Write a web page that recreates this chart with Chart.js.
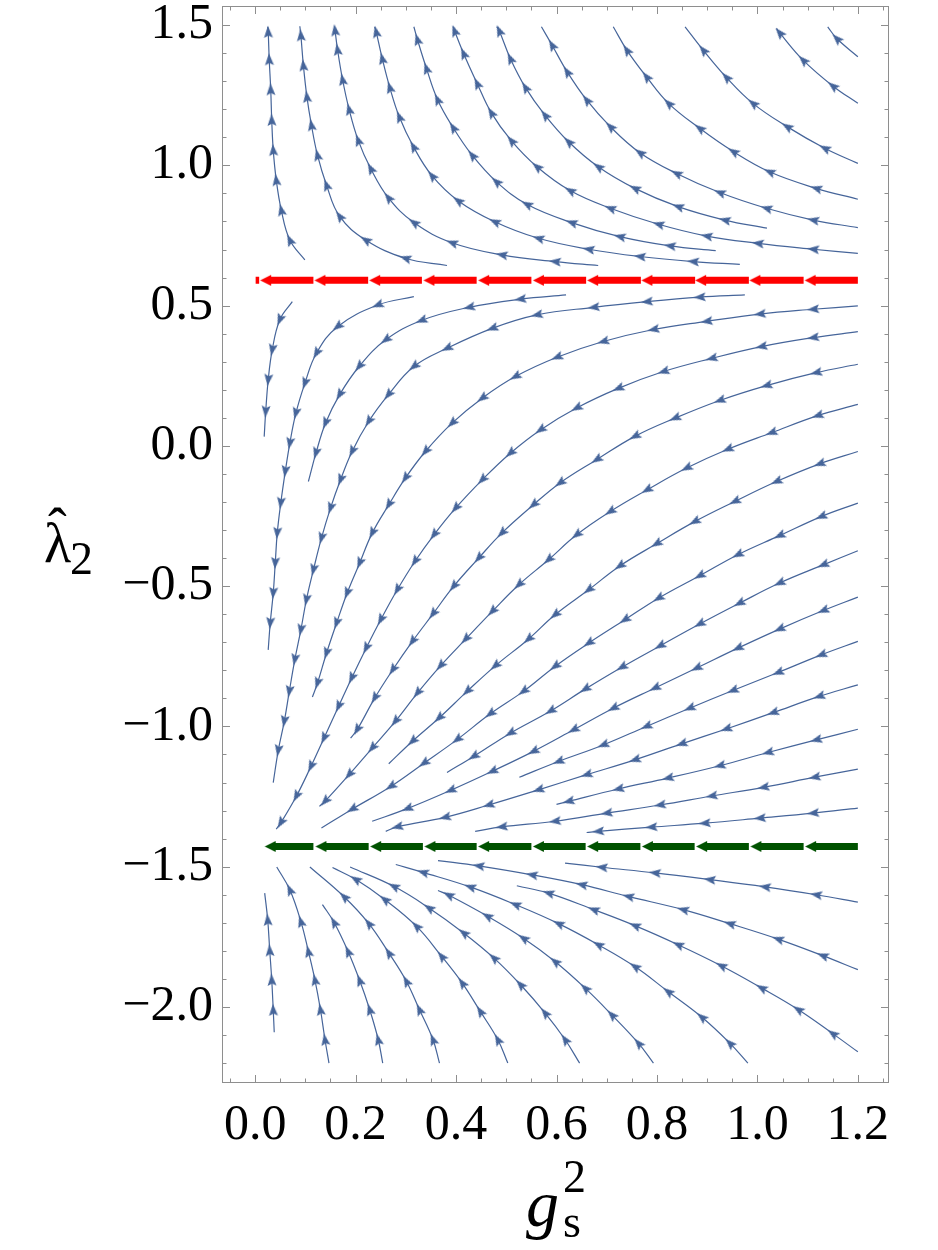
<!DOCTYPE html>
<html>
<head>
<meta charset="utf-8">
<script src="https://cdn.jsdelivr.net/npm/chart.js@4.4.1/dist/chart.umd.min.js"></script>
<style>
  html, body { margin: 0; padding: 0; background: #fff; }
  canvas { display: block; }
  .probe { font-family: 'Liberation Serif'; position: absolute; left: -999px; top: 0; }
</style>
</head>
<body>
<span class="probe">0.5 λ g <i>g</i></span>
<canvas id="flowChart" width="938" height="1250"></canvas>
<script>
// --- axes ---
const xRange = [-0.066, 1.262];
const yRange = [-2.271, 1.568];
const xTickLabels = ['0.0', '0.2', '0.4', '0.6', '0.8', '1.0', '1.2'];
const yTickLabels = ['\u22122.0', '\u22121.5', '\u22121.0', '\u22120.5', '0.0', '0.5', '1.0', '1.5'];

// --- fixed lines (thick arrows) ---
const redLevel = 0.590;
const redTips = [0.011, 0.119, 0.228, 0.336, 0.445, 0.554, 0.662, 0.770, 0.877, 0.985, 1.095];
const redEnds = [0.116, 0.225, 0.332, 0.441, 0.550, 0.659, 0.768, 0.876, 0.983, 1.092, 1.200];
const redStub = [0.001, 0.008];
const greenLevel = -1.428;
const greenTips = [0.020, 0.121, 0.230, 0.338, 0.445, 0.554, 0.662, 0.771, 0.879, 0.987, 1.096];
const greenEnds = [0.116, 0.226, 0.334, 0.441, 0.550, 0.658, 0.767, 0.875, 0.983, 1.092, 1.200];

// --- stream lines, points in flow order (inner points carry an arrow) ---
const upperStreams = [
  [[0.099,0.663],[0.069,0.734],[0.052,0.841],[0.042,0.948],[0.036,1.055],[0.033,1.162],[0.031,1.271],[0.028,1.378],[0.026,1.476],[0.025,1.494]],
  [[0.382,0.643],[0.299,0.669],[0.220,0.734],[0.168,0.819],[0.142,0.930],[0.124,1.037],[0.112,1.144],[0.103,1.245],[0.096,1.357],[0.091,1.464],[0.089,1.496]],
  [[0.683,0.643],[0.597,0.657],[0.491,0.681],[0.392,0.724],[0.316,0.796],[0.265,0.885],[0.230,0.989],[0.205,1.090],[0.187,1.200],[0.174,1.306],[0.164,1.413],[0.159,1.482],[0.158,1.494]],
  [[0.965,0.647],[0.872,0.657],[0.766,0.675],[0.664,0.701],[0.564,0.740],[0.477,0.799],[0.404,0.874],[0.352,0.963],[0.315,1.067],[0.287,1.173],[0.268,1.278],[0.253,1.381],[0.241,1.476],[0.238,1.494]],
  [[0.917,0.696],[0.826,0.713],[0.726,0.746],[0.630,0.796],[0.541,0.861],[0.480,0.942],[0.432,1.036],[0.394,1.135],[0.363,1.235],[0.341,1.346],[0.323,1.449],[0.316,1.494]],
  [[1.200,0.686],[1.111,0.701],[1.001,0.722],[0.899,0.748],[0.803,0.790],[0.707,0.847],[0.627,0.910],[0.561,0.995],[0.510,1.088],[0.470,1.188],[0.442,1.292],[0.415,1.399],[0.397,1.480],[0.395,1.494]],
  [[1.019,0.776],[0.935,0.805],[0.842,0.853],[0.756,0.918],[0.683,0.995],[0.624,1.084],[0.577,1.179],[0.538,1.278],[0.508,1.381],[0.486,1.480],[0.481,1.494]],
  [[1.200,0.778],[1.111,0.805],[1.018,0.847],[0.925,0.903],[0.839,0.971],[0.766,1.045],[0.707,1.138],[0.660,1.233],[0.621,1.334],[0.591,1.429],[0.570,1.494]],
  [[1.200,0.879],[1.117,0.918],[1.024,0.977],[0.952,1.049],[0.885,1.132],[0.823,1.221],[0.779,1.316],[0.740,1.411],[0.713,1.494]],
  [[1.200,1.007],[1.134,1.061],[1.059,1.138],[0.991,1.221],[0.938,1.314],[0.892,1.411],[0.856,1.494]],
  [[1.200,1.221],[1.150,1.283],[1.091,1.375],[1.044,1.473],[1.038,1.488]],
  [[1.200,1.387],[1.158,1.452],[1.140,1.494]]
];

const middleStreams = [
  [[0.074,0.514],[0.049,0.449],[0.034,0.342],[0.026,0.235],[0.021,0.122],[0.018,0.033]],
  [[0.316,0.532],[0.244,0.502],[0.164,0.425],[0.122,0.330],[0.099,0.223],[0.081,0.116],[0.069,0.009],[0.060,-0.091],[0.051,-0.204],[0.044,-0.311],[0.040,-0.418],[0.036,-0.525],[0.030,-0.632],[0.026,-0.727]],
  [[0.619,0.538],[0.528,0.523],[0.426,0.494],[0.331,0.447],[0.260,0.378],[0.207,0.283],[0.168,0.182],[0.140,0.081],[0.121,-0.026],[0.106,-0.127]],
  [[0.975,0.538],[0.885,0.530],[0.780,0.514],[0.674,0.494],[0.561,0.467],[0.472,0.419],[0.382,0.348],[0.316,0.283],[0.265,0.182],[0.226,0.087],[0.193,-0.020],[0.170,-0.121],[0.150,-0.222],[0.132,-0.329],[0.116,-0.442],[0.102,-0.549],[0.091,-0.656],[0.079,-0.762],[0.068,-0.875],[0.058,-0.982],[0.046,-1.086],[0.036,-1.200]],
  [[1.200,0.499],[1.111,0.487],[1.005,0.470],[0.899,0.444],[0.793,0.415],[0.693,0.372],[0.601,0.316],[0.518,0.247],[0.452,0.170],[0.392,0.081],[0.339,-0.020],[0.299,-0.115],[0.266,-0.210],[0.233,-0.311],[0.208,-0.418],[0.183,-0.525],[0.162,-0.632],[0.142,-0.739],[0.124,-0.846],[0.114,-0.895]],
  [[1.200,0.407],[1.111,0.386],[1.008,0.354],[0.909,0.312],[0.813,0.265],[0.723,0.205],[0.640,0.135],[0.568,0.057],[0.508,-0.026],[0.452,-0.121],[0.399,-0.222],[0.356,-0.317],[0.318,-0.412],[0.283,-0.513],[0.250,-0.620],[0.221,-0.721],[0.192,-0.828],[0.166,-0.929],[0.137,-1.042],[0.111,-1.143],[0.082,-1.249],[0.051,-1.344],[0.042,-1.366]],
  [[1.200,0.291],[1.117,0.261],[1.018,0.215],[0.925,0.162],[0.836,0.099],[0.756,0.034],[0.680,-0.049],[0.607,-0.132],[0.554,-0.210],[0.491,-0.311],[0.445,-0.400],[0.395,-0.501],[0.354,-0.599],[0.313,-0.697],[0.274,-0.798],[0.238,-0.899],[0.203,-1.012],[0.190,-1.042]],
  [[1.200,0.148],[1.120,0.108],[1.028,0.047],[0.941,-0.012],[0.859,-0.079],[0.780,-0.157],[0.707,-0.234],[0.640,-0.317],[0.584,-0.406],[0.525,-0.495],[0.472,-0.590],[0.419,-0.689],[0.369,-0.784],[0.323,-0.881],[0.279,-0.982],[0.233,-1.077],[0.187,-1.172],[0.139,-1.267],[0.128,-1.285]],
  [[1.200,-0.020],[1.124,-0.064],[1.038,-0.127],[0.955,-0.198],[0.875,-0.270],[0.799,-0.349],[0.726,-0.428],[0.664,-0.513],[0.597,-0.602],[0.544,-0.689],[0.478,-0.784],[0.422,-0.875],[0.366,-0.970],[0.313,-1.053],[0.266,-1.133]],
  [[1.200,-0.204],[1.127,-0.252],[1.044,-0.320],[0.961,-0.388],[0.885,-0.463],[0.803,-0.543],[0.736,-0.620],[0.664,-0.703],[0.597,-0.786],[0.534,-0.875],[0.468,-0.955],[0.402,-1.047],[0.336,-1.131],[0.270,-1.214],[0.193,-1.295],[0.132,-1.362]],
  [[1.200,-0.374],[1.131,-0.424],[1.044,-0.489],[0.964,-0.561],[0.885,-0.635],[0.806,-0.713],[0.730,-0.789],[0.657,-0.867],[0.588,-0.945],[0.508,-1.024],[0.435,-1.107],[0.382,-1.164]],
  [[1.200,-0.539],[1.131,-0.587],[1.044,-0.653],[0.961,-0.721],[0.879,-0.792],[0.796,-0.863],[0.713,-0.935],[0.634,-1.012],[0.554,-1.089],[0.472,-1.160],[0.389,-1.228],[0.303,-1.293],[0.233,-1.338]],
  [[1.200,-0.697],[1.127,-0.745],[1.041,-0.808],[0.951,-0.872],[0.865,-0.935],[0.779,-1.000],[0.693,-1.066],[0.604,-1.125],[0.526,-1.181]],
  [[1.200,-0.852],[1.123,-0.893],[1.031,-0.951],[0.938,-1.009],[0.849,-1.062],[0.756,-1.119],[0.660,-1.172],[0.564,-1.226],[0.465,-1.280],[0.378,-1.324],[0.283,-1.358],[0.260,-1.374]],
  [[1.200,-1.010],[1.117,-1.048],[1.021,-1.093],[0.925,-1.140],[0.822,-1.184],[0.723,-1.223],[0.624,-1.267],[0.600,-1.278]],
  [[1.200,-1.152],[1.114,-1.181],[1.012,-1.217],[0.909,-1.248],[0.806,-1.280],[0.700,-1.309],[0.597,-1.338],[0.491,-1.358],[0.438,-1.374]],
  [[1.200,-1.291],[1.111,-1.309],[1.005,-1.327],[0.895,-1.345],[0.789,-1.359],[0.683,-1.374],[0.660,-1.378]]
];

const lowerStreams = [
  [[0.038,-2.090],[0.036,-2.010],[0.033,-1.903],[0.029,-1.798],[0.025,-1.689],[0.019,-1.594]],
  [[0.147,-2.200],[0.139,-2.116],[0.130,-2.009],[0.119,-1.903],[0.106,-1.802],[0.091,-1.695],[0.069,-1.582],[0.043,-1.501]],
  [[0.254,-2.200],[0.245,-2.116],[0.228,-2.009],[0.208,-1.905],[0.185,-1.802],[0.157,-1.698],[0.134,-1.635]],
  [[0.367,-2.200],[0.354,-2.116],[0.327,-2.009],[0.301,-1.908],[0.266,-1.807],[0.226,-1.702],[0.177,-1.607],[0.109,-1.501]],
  [[0.503,-2.200],[0.483,-2.116],[0.448,-2.015],[0.412,-1.914],[0.371,-1.819],[0.321,-1.712],[0.258,-1.617],[0.200,-1.545],[0.154,-1.503]],
  [[0.646,-2.200],[0.617,-2.116],[0.577,-2.021],[0.528,-1.920],[0.475,-1.825],[0.415,-1.736],[0.346,-1.647],[0.276,-1.570],[0.189,-1.501]],
  [[0.793,-2.200],[0.763,-2.129],[0.710,-2.028],[0.657,-1.933],[0.597,-1.838],[0.534,-1.755],[0.462,-1.676],[0.385,-1.601],[0.364,-1.585]],
  [[0.981,-2.200],[0.945,-2.129],[0.889,-2.036],[0.822,-1.945],[0.756,-1.856],[0.683,-1.778],[0.604,-1.703],[0.518,-1.635],[0.428,-1.572],[0.334,-1.520],[0.280,-1.492]],
  [[1.200,-2.160],[1.150,-2.095],[1.081,-2.009],[1.008,-1.932],[0.928,-1.853],[0.842,-1.778],[0.756,-1.710],[0.674,-1.653],[0.584,-1.594],[0.521,-1.568]],
  [[1.200,-1.867],[1.130,-1.817],[1.041,-1.758],[0.945,-1.703],[0.852,-1.653],[0.743,-1.606],[0.650,-1.564],[0.551,-1.529],[0.445,-1.497],[0.364,-1.478]],
  [[1.200,-1.626],[1.117,-1.600],[1.015,-1.572],[0.905,-1.546],[0.796,-1.522],[0.690,-1.502],[0.617,-1.487]]
];

// --- styles ---
const STREAM = '#46659a';
const RED = '#ff0000';
const GREEN = '#005200';
const FRAME = '#8e8e8e';
const SERIF = "'Liberation Serif', 'Times New Roman', Times, serif";
const HEAD_SPAN = 0.017;   // bar starts this far right of an arrow tip
const HEAD_MID = 0.010;

const num = s => parseFloat(s.replace('\u2212', '-'));
const xTickValues = xTickLabels.map(num);
const yTickValues = yTickLabels.map(num);

// arrowhead drawn pointing up, centred in a small canvas
function makeHead(len, wid, notch, color) {
  const s = Math.ceil(Math.max(len, wid)) + 2;
  const c = document.createElement('canvas');
  c.width = s; c.height = s;
  const g = c.getContext('2d');
  const cx = s / 2, cy = s / 2;
  g.fillStyle = color;
  g.beginPath();
  g.moveTo(cx, cy - len / 2);
  g.lineTo(cx + wid / 2, cy + len / 2);
  g.lineTo(cx, cy + len / 2 - notch);
  g.lineTo(cx - wid / 2, cy + len / 2);
  g.closePath();
  g.fill();
  return c;
}
const streamHead = makeHead(12, 9, 2.2, STREAM);
const redHead = makeHead(11, 11, 0, RED);
const greenHead = makeHead(11, 11, 0, GREEN);

// direction of the line at a point, from its neighbours in pixel space
function headAngle(c) {
  const pts = c.dataset.data, i = c.dataIndex;
  const sx = c.chart.scales.x, sy = c.chart.scales.y;
  const a = pts[Math.max(i - 1, 0)], b = pts[Math.min(i + 1, pts.length - 1)];
  const dx = sx.getPixelForValue(b.x) - sx.getPixelForValue(a.x);
  const dy = sy.getPixelForValue(b.y) - sy.getPixelForValue(a.y);
  return Math.atan2(dx, -dy) * 180 / Math.PI;
}

function streamSet(line) {
  const n = line.length;
  return {
    data: line.map(([x, y]) => ({ x, y })),
    showLine: true,
    borderColor: STREAM,
    borderWidth: 1.2,
    tension: 0.4,
    pointStyle: streamHead,
    pointRadius: c => (c.dataIndex === 0 || c.dataIndex === n - 1) ? 0 : 4,
    pointRotation: headAngle,
    order: 2
  };
}

function barSet(tips, ends, level, color, stub) {
  const data = [];
  if (stub) data.push({ x: stub[0], y: level }, { x: stub[1], y: level }, { x: stub[1], y: null });
  tips.forEach((t, i) => {
    data.push({ x: t + HEAD_SPAN, y: level }, { x: ends[i], y: level }, { x: ends[i], y: null });
  });
  return {
    data, showLine: true, spanGaps: false,
    borderColor: color, borderWidth: 7, borderCapStyle: 'butt',
    pointRadius: 0, order: 1
  };
}

function headSet(tips, level, img) {
  return {
    data: tips.map(t => ({ x: t + HEAD_MID, y: level })),
    showLine: false,
    pointStyle: img, pointRadius: 5, pointRotation: -90,
    order: 0
  };
}

// frame with inward ticks on all four sides
const frameTicks = {
  id: 'frameTicks',
  afterDatasetsDraw(chart) {
    const { ctx, chartArea: a, scales: { x, y } } = chart;
    ctx.save();
    ctx.strokeStyle = FRAME;
    ctx.lineWidth = 1;
    ctx.beginPath();
    for (let k = -1; k <= 25; k++) {
      const px = Math.round(x.getPixelForValue(k * 0.05)) + 0.5;
      const len = k % 4 === 0 ? 8 : 4.5;
      ctx.moveTo(px, a.bottom); ctx.lineTo(px, a.bottom - len);
      ctx.moveTo(px, a.top); ctx.lineTo(px, a.top + len);
    }
    for (let k = -22; k <= 15; k++) {
      const py = Math.round(y.getPixelForValue(k * 0.1)) + 0.5;
      const len = k % 5 === 0 ? 8 : 4.5;
      ctx.moveTo(a.left, py); ctx.lineTo(a.left + len, py);
      ctx.moveTo(a.right, py); ctx.lineTo(a.right - len, py);
    }
    ctx.stroke();
    ctx.strokeRect(a.left + 0.5, a.top + 0.5, a.right - a.left - 1, a.bottom - a.top - 1);
    ctx.restore();
  }
};

// axis titles with sub/superscripts
const axisTitles = {
  id: 'axisTitles',
  afterDraw(chart) {
    const ctx = chart.ctx;
    ctx.save();
    ctx.fillStyle = '#000';
    ctx.textAlign = 'left';
    ctx.textBaseline = 'alphabetic';
    ctx.font = '56px ' + SERIF;
    ctx.fillText('\u03bb', 44, 562);
    ctx.fillText('\u02c6', 48, 547);
    ctx.font = '46px ' + SERIF;
    ctx.fillText('2', 70, 574);
    ctx.font = 'italic 66px ' + SERIF;
    ctx.fillText('g', 526, 1226);
    ctx.font = '46px ' + SERIF;
    ctx.fillText('2', 563, 1192);
    ctx.fillText('s', 563, 1237);
    ctx.restore();
  }
};

const noPad = s => { s.paddingTop = 0; s.paddingBottom = 0; s.paddingLeft = 0; s.paddingRight = 0; };

function draw() {
  const datasets = [
    ...upperStreams.map(streamSet),
    ...middleStreams.map(streamSet),
    ...lowerStreams.map(streamSet),
    barSet(redTips, redEnds, redLevel, RED, redStub),
    barSet(greenTips, greenEnds, greenLevel, GREEN, null),
    headSet(redTips, redLevel, redHead),
    headSet(greenTips, greenLevel, greenHead)
  ];

  new Chart(document.getElementById('flowChart'), {
    type: 'scatter',
    data: { datasets },
    options: {
      responsive: false,
      animation: false,
      events: [],
      layout: { padding: { left: 0, right: 49, top: 6, bottom: 0 } },
      plugins: { legend: { display: false }, tooltip: { enabled: false } },
      scales: {
        x: {
          type: 'linear', min: xRange[0], max: xRange[1],
          afterBuildTicks: s => { s.ticks = xTickValues.map(v => ({ value: v })); },
          afterFit: s => { s.height = 167; noPad(s); },
          grid: { display: false, drawTicks: false },
          border: { display: false },
          ticks: {
            autoSkip: false, maxRotation: 0, padding: 13, color: '#000',
            font: { family: SERIF, size: 50 },
            callback: v => xTickLabels[xTickValues.indexOf(v)]
          }
        },
        y: {
          type: 'linear', min: yRange[0], max: yRange[1],
          afterBuildTicks: s => { s.ticks = yTickValues.map(v => ({ value: v })); },
          afterFit: s => { s.width = 222; noPad(s); },
          grid: { display: false, drawTicks: false },
          border: { display: false },
          ticks: {
            autoSkip: false, padding: 9, color: '#000',
            font: { family: SERIF, size: 50 },
            callback: v => yTickLabels[yTickValues.indexOf(v)]
          }
        }
      }
    },
    plugins: [frameTicks, axisTitles]
  });
}

// make sure the serif face is ready before the canvas text is drawn
Promise.all([
  document.fonts.load("50px 'Liberation Serif'"),
  document.fonts.load("italic 66px 'Liberation Serif'")
]).then(draw, draw);
</script>
</body>
</html>
